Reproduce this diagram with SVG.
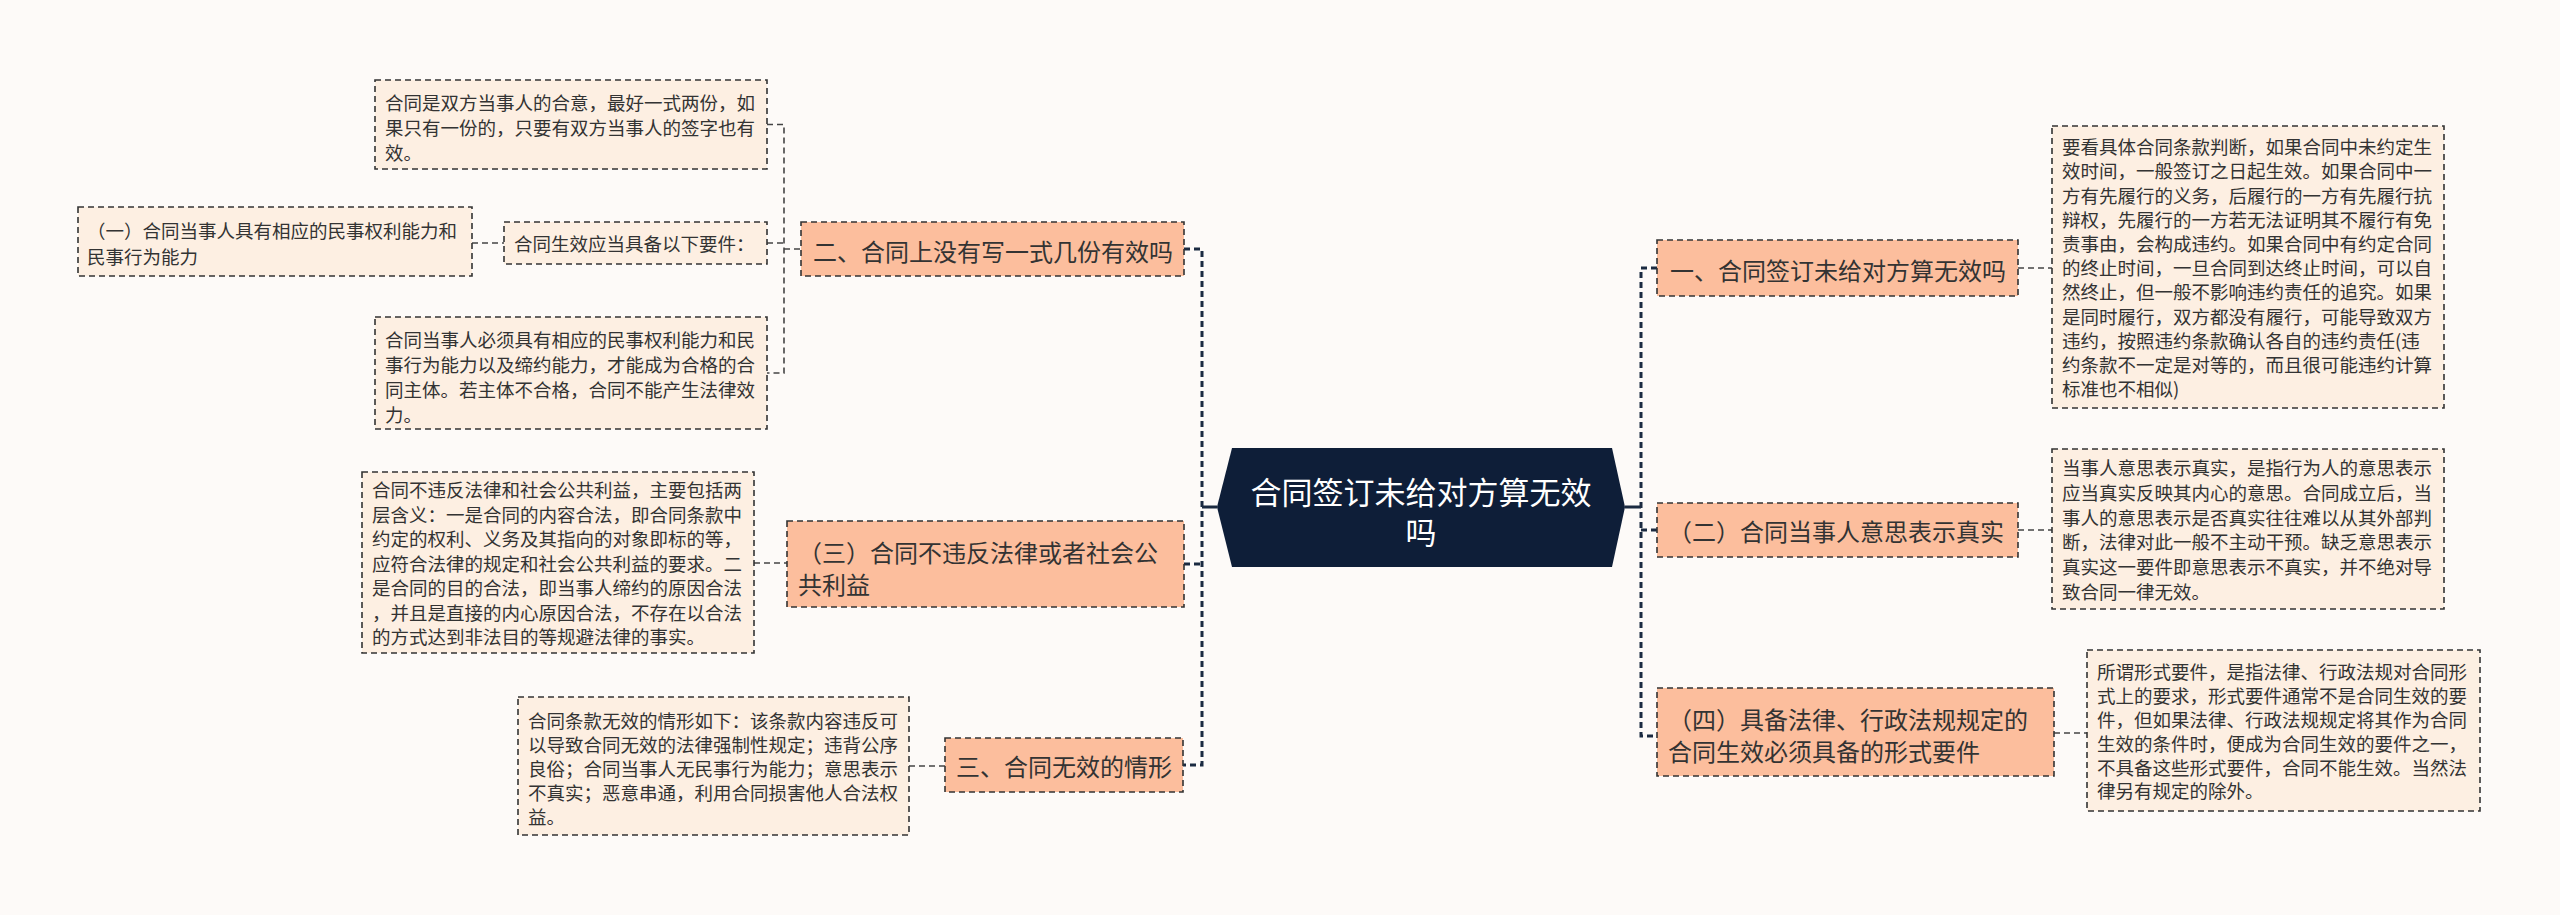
<svg xmlns="http://www.w3.org/2000/svg" width="2560" height="915" viewBox="0 0 2560 915">
<style>
text{font-family:"Noto Sans CJK SC","Noto Sans",sans-serif;fill:#333;dominant-baseline:central}
.l1 rect{fill:#FCBE9D;stroke:#333;stroke-width:1.6;stroke-dasharray:6 4}
.l1 text{font-size:24px}
.l2 rect{fill:#FDEFE2;stroke:#333;stroke-width:1.6;stroke-dasharray:6 4}
.l2 text{font-size:18.5px}
.sp{fill:none;stroke:#1B2A41;stroke-width:3;stroke-dasharray:6 4}
.c2{fill:none;stroke:#444;stroke-width:1.6;stroke-dasharray:6 4}
.solid{fill:none;stroke:#1B2A41;stroke-width:3}
</style>
<rect width="2560" height="915" fill="#FDFAF8"/>
<g id="connectors">
<path class="sp" d="M1184 249H1202V765H1183M1184 564H1202"/>
<path class="solid" d="M1202 507H1217M1625 507H1641"/>
<path class="sp" d="M1657 268H1641V736H1657M1641 530H1657"/>
<path class="c2" d="M767 124.5H784V373H767M767 243H784M784 249H801M472 243H504"/>
<path class="c2" d="M754 563H787M909 766H945"/>
<path class="c2" d="M2018 268H2052M2018 530H2052M2054 733H2087"/>
</g>
<g id="center">
<polygon points="1232,448 1612,448 1625,507 1612,567 1232,567 1217,507" fill="#0E1E38"/>
<text x="1421" y="490" text-anchor="middle" style="fill:#fff;font-size:31px">合同签订未给对方算无效</text>
<text x="1421" y="530" text-anchor="middle" style="fill:#fff;font-size:31px">吗</text>
</g>
<g id="n-er" class="l1">
<rect x="801" y="222" width="383" height="54"/>
<text x="813" y="250">二、合同上没有写一式几份有效吗</text>
</g>
<g id="n-san3" class="l1">
<rect x="787" y="521" width="397" height="86"/>
<text x="798" y="551">（三）合同不违反法律或者社会公</text>
<text x="798" y="583">共利益</text>
</g>
<g id="n-san" class="l1">
<rect x="945" y="738" width="238" height="54"/>
<text x="956" y="765">三、合同无效的情形</text>
</g>
<g id="n-yi" class="l1">
<rect x="1657" y="240" width="361" height="56"/>
<text x="1670" y="269">一、合同签订未给对方算无效吗</text>
</g>
<g id="n-er2" class="l1">
<rect x="1657" y="503" width="361" height="54"/>
<text x="1668" y="530">（二）合同当事人意思表示真实</text>
</g>
<g id="n-si" class="l1">
<rect x="1657" y="688" width="397" height="88"/>
<text x="1668" y="718">（四）具备法律、行政法规规定的</text>
<text x="1668" y="750">合同生效必须具备的形式要件</text>
</g>
<g id="d-a" class="l2">
<rect x="375" y="80" width="392" height="89"/>
<text x="385" y="102">合同是双方当事人的合意，最好一式两份，如</text>
<text x="385" y="127">果只有一份的，只要有双方当事人的签字也有</text>
<text x="385" y="152">效。</text>
</g>
<g id="d-yi" class="l2">
<rect x="78" y="207" width="394" height="69"/>
<text x="87" y="230">（一）合同当事人具有相应的民事权利能力和</text>
<text x="87" y="256">民事行为能力</text>
</g>
<g id="d-req" class="l2">
<rect x="504" y="222" width="263" height="42"/>
<text x="514" y="243">合同生效应当具备以下要件：</text>
</g>
<g id="d-c" class="l2">
<rect x="375" y="317" width="392" height="112"/>
<text x="385" y="339">合同当事人必须具有相应的民事权利能力和民</text>
<text x="385" y="364">事行为能力以及缔约能力，才能成为合格的合</text>
<text x="385" y="389">同主体。若主体不合格，合同不能产生法律效</text>
<text x="385" y="414">力。</text>
</g>
<g id="d-san3" class="l2">
<rect x="362" y="472" width="392" height="181"/>
<text x="372" y="489">合同不违反法律和社会公共利益，主要包括两</text>
<text x="372" y="513.5">层含义：一是合同的内容合法，即合同条款中</text>
<text x="372" y="538">约定的权利、义务及其指向的对象即标的等，</text>
<text x="372" y="562.5">应符合法律的规定和社会公共利益的要求。二</text>
<text x="372" y="587">是合同的目的合法，即当事人缔约的原因合法</text>
<text x="372" y="611.5">，并且是直接的内心原因合法，不存在以合法</text>
<text x="372" y="636">的方式达到非法目的等规避法律的事实。</text>
</g>
<g id="d-san" class="l2">
<rect x="518" y="697" width="391" height="138"/>
<text x="528" y="720">合同条款无效的情形如下：该条款内容违反可</text>
<text x="528" y="744">以导致合同无效的法律强制性规定；违背公序</text>
<text x="528" y="768">良俗；合同当事人无民事行为能力；意思表示</text>
<text x="528" y="792">不真实；恶意串通，利用合同损害他人合法权</text>
<text x="528" y="816">益。</text>
</g>
<g id="d-r1" class="l2">
<rect x="2052" y="126" width="392" height="282"/>
<text x="2062" y="146">要看具体合同条款判断，如果合同中未约定生</text>
<text x="2062" y="170">效时间，一般签订之日起生效。如果合同中一</text>
<text x="2062" y="194.5">方有先履行的义务，后履行的一方有先履行抗</text>
<text x="2062" y="218.5">辩权，先履行的一方若无法证明其不履行有免</text>
<text x="2062" y="243">责事由，会构成违约。如果合同中有约定合同</text>
<text x="2062" y="267">的终止时间，一旦合同到达终止时间，可以自</text>
<text x="2062" y="291">然终止，但一般不影响违约责任的追究。如果</text>
<text x="2062" y="315.5">是同时履行，双方都没有履行，可能导致双方</text>
<text x="2062" y="339.5">违约，按照违约条款确认各自的违约责任(违</text>
<text x="2062" y="364">约条款不一定是对等的，而且很可能违约计算</text>
<text x="2062" y="388">标准也不相似)</text>
</g>
<g id="d-r2" class="l2">
<rect x="2052" y="449" width="392" height="160"/>
<text x="2062" y="467">当事人意思表示真实，是指行为人的意思表示</text>
<text x="2062" y="492">应当真实反映其内心的意思。合同成立后，当</text>
<text x="2062" y="517">事人的意思表示是否真实往往难以从其外部判</text>
<text x="2062" y="541">断，法律对此一般不主动干预。缺乏意思表示</text>
<text x="2062" y="566">真实这一要件即意思表示不真实，并不绝对导</text>
<text x="2062" y="591">致合同一律无效。</text>
</g>
<g id="d-r3" class="l2">
<rect x="2087" y="650" width="393" height="161"/>
<text x="2097" y="671">所谓形式要件，是指法律、行政法规对合同形</text>
<text x="2097" y="695">式上的要求，形式要件通常不是合同生效的要</text>
<text x="2097" y="719">件，但如果法律、行政法规规定将其作为合同</text>
<text x="2097" y="743">生效的条件时，便成为合同生效的要件之一，</text>
<text x="2097" y="767">不具备这些形式要件，合同不能生效。当然法</text>
<text x="2097" y="790">律另有规定的除外。</text>
</g>
</svg>
